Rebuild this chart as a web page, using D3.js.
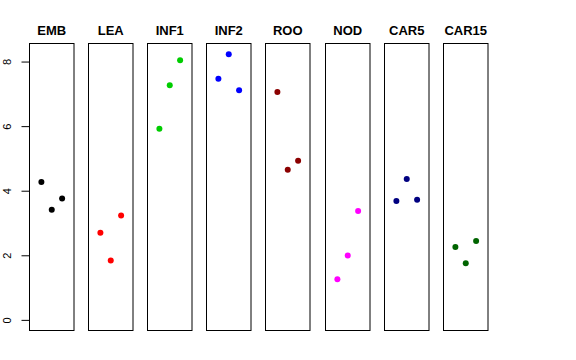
<!DOCTYPE html>
<html>
<head>
<meta charset="utf-8">
<script src="https://cdn.jsdelivr.net/npm/d3@7"></script>
<style>
  body { margin: 0; background: #fff; }
  text { font-family: "Liberation Sans", Arial, sans-serif; }
</style>
</head>
<body>
<script>
// panel names, colours, and three values per panel (left, middle, right)
var groups = ["EMB", "LEA", "INF1", "INF2", "ROO", "NOD", "CAR5", "CAR15"];
var colors = ["#000000", "#FF0000", "#00CD00", "#0000FF", "#8B0000", "#FF00FF", "#000080", "#006400"];
var vals_left  = [4.27, 2.70, 5.92, 7.47, 7.06, 1.26, 3.68, 2.26];
var vals_mid   = [3.41, 1.84, 7.27, 8.23, 4.65, 1.99, 4.36, 1.75];
var vals_right = [3.76, 3.23, 8.04, 7.11, 4.93, 3.37, 3.72, 2.44];
var yticks = [0, 2, 4, 6, 8];

var width = 576, height = 360;
var plotTop = 43.5, plotBottom = 330.5;
var panelW = 44.5, pitch = 59.1, x0 = 29;

var svg = d3.select("body").append("svg")
  .attr("width", width).attr("height", height);

var ymax = d3.max(vals_left.concat(vals_mid, vals_right));
var span = ymax - 0;
var y = d3.scaleLinear()
  .domain([0 - 0.04 * span, ymax + 0.04 * span])
  .range([plotBottom, plotTop]);

// x inside one panel: points at -1, 0, 1
var xin = d3.scaleLinear().domain([-2.15, 2.15]).range([0, panelW]);

// y axis
var yaxis = svg.append("g")
  .attr("transform", "translate(" + (x0 + 0.5) + ",0)")
  .call(d3.axisLeft(y).tickValues(yticks).tickSize(8).tickPadding(0).tickFormat(d3.format("d")));
yaxis.select(".domain").remove();
yaxis.selectAll(".tick line").attr("stroke", "#000");
yaxis.selectAll(".tick text")
  .attr("font-size", 11)
  .attr("fill", "#000")
  .attr("text-anchor", "middle")
  .attr("x", 0)
  .attr("transform", "translate(-22,0) rotate(-90)")
  .attr("dy", "0.35em");

groups.forEach(function(g, i) {
  var px = Math.round(x0 + i * pitch) + 0.5;
  var panel = svg.append("g").attr("transform", "translate(" + px + ",0)");
  panel.append("rect")
    .attr("x", 0).attr("y", plotTop)
    .attr("width", panelW).attr("height", plotBottom - plotTop)
    .attr("fill", "none").attr("stroke", "#000").attr("stroke-width", 1);
  panel.append("text")
    .attr("x", panelW / 2).attr("y", 35)
    .attr("text-anchor", "middle")
    .attr("font-weight", "bold")
    .attr("font-size", 13)
    .text(g);
  var pts = [[-1, vals_left[i]], [0, vals_mid[i]], [1, vals_right[i]]];
  panel.selectAll("circle").data(pts).enter().append("circle")
    .attr("cx", function(d) { return xin(d[0]); })
    .attr("cy", function(d) { return y(d[1]); })
    .attr("r", 3)
    .attr("fill", colors[i]);
});
</script>
</body>
</html>
